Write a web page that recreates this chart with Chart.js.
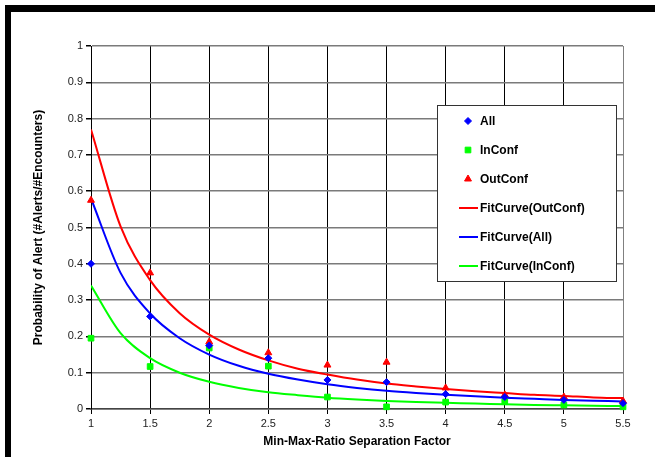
<!DOCTYPE html>
<html>
<head>
<meta charset="utf-8">
<script src="https://cdn.jsdelivr.net/npm/chart.js@4"></script>
<style>
  html, body { margin: 0; padding: 0; background: #fff; }
  #wrap { width: 655px; height: 457px; position: relative; }
</style>
</head>
<body>
<div id="wrap"><canvas id="alertChart" width="655" height="457"></canvas></div>
<script>
// separation factor values where the measurements were taken
const sepFactor = [1, 1.5, 2, 2.5, 3, 3.5, 4, 4.5, 5, 5.5];
const allProb     = [0.40, 0.255, 0.175, 0.140, 0.080, 0.074, 0.041, 0.033, 0.025, 0.016];
const inConfProb  = [0.195, 0.117, 0.168, 0.118, 0.033, 0.006, 0.019, 0.020, 0.011, 0.006];
const outConfProb = [0.575, 0.375, 0.185, 0.155, 0.121, 0.129, 0.058, 0.039, 0.033, 0.022];

// fitted curves
const fitX          = [1, 1.25, 1.5, 1.75, 2, 2.25, 2.5, 2.75, 3, 3.25, 3.5, 3.75, 4, 4.25, 4.5, 4.75, 5, 5.25, 5.5];
const fitOutConf    = [0.770, 0.503, 0.355, 0.264, 0.205, 0.164, 0.134, 0.111, 0.095, 0.081, 0.070, 0.062, 0.055, 0.049, 0.044, 0.039, 0.036, 0.032, 0.030];
const fitAll        = [0.580, 0.375, 0.263, 0.195, 0.150, 0.119, 0.097, 0.081, 0.068, 0.058, 0.050, 0.044, 0.039, 0.035, 0.031, 0.028, 0.025, 0.023, 0.021];
const fitInConf     = [0.340, 0.209, 0.140, 0.100, 0.075, 0.058, 0.046, 0.038, 0.031, 0.026, 0.022, 0.019, 0.017, 0.015, 0.013, 0.011, 0.010, 0.009, 0.008];

const toPts = (xs, ys) => xs.map((x, i) => ({ x: x, y: ys[i] }));
const FONT = "'Liberation Sans', Arial, sans-serif";
const fmt = (v) => String(Math.round(v * 100) / 100);

// black frame on the left and top edge + legend box inside the plot
const decoPlugin = {
    id: 'deco',
    beforeDraw(chart) {
        const c = chart.ctx;
        c.save();
        c.fillStyle = '#fff';
        c.fillRect(0, 0, chart.width, chart.height);
        c.fillStyle = '#000';
        c.fillRect(5, 5, 6, chart.height - 5);
        c.fillRect(5, 5, chart.width - 5, 7);
        c.restore();
    },
    afterDraw(chart) {
        const c = chart.ctx;
        const box = { x: 437, y: 105, w: 179, h: 176 };
        c.save();
        c.fillStyle = '#fff';
        c.fillRect(box.x, box.y, box.w, box.h);
        c.strokeStyle = '#333';
        c.lineWidth = 1;
        c.strokeRect(box.x + 0.5, box.y + 0.5, box.w, box.h);
        c.font = 'bold 12px ' + FONT;
        c.textBaseline = 'middle';
        chart.data.datasets.forEach((ds, i) => {
            const y = 121 + i * 29;
            if (ds.type === 'scatter') {
                c.fillStyle = ds.backgroundColor;
                c.strokeStyle = ds.backgroundColor;
                c.lineWidth = 1;
                Chart.helpers.drawPoint(c, { pointStyle: ds.pointStyle, radius: ds.pointRadius, rotation: 0, borderWidth: 1 }, 468, y);
            } else {
                c.strokeStyle = ds.borderColor;
                c.lineWidth = 2;
                c.beginPath();
                c.moveTo(459, y);
                c.lineTo(478, y);
                c.stroke();
            }
            c.fillStyle = '#000';
            c.fillText(ds.label, 480, y + 1);
        });
        c.restore();
    }
};

new Chart(document.getElementById('alertChart').getContext('2d'), {
    data: {
        datasets: [
            { type: 'scatter', label: 'All', data: toPts(sepFactor, allProb), clip: false,
              pointStyle: 'rectRot', pointRadius: 3.5, backgroundColor: '#0000ff', borderColor: '#0000ff', borderWidth: 1 },
            { type: 'scatter', label: 'InConf', data: toPts(sepFactor, inConfProb), clip: false,
              pointStyle: 'rect', pointRadius: 4, backgroundColor: '#00ff00', borderColor: '#00ff00', borderWidth: 1 },
            { type: 'scatter', label: 'OutConf', data: toPts(sepFactor, outConfProb), clip: false,
              pointStyle: 'triangle', pointRadius: 4, backgroundColor: '#ff0000', borderColor: '#ff0000', borderWidth: 1 },
            { type: 'line', label: 'FitCurve(OutConf)', data: toPts(fitX, fitOutConf),
              borderColor: '#ff0000', borderWidth: 2, pointRadius: 0, cubicInterpolationMode: 'monotone', fill: false },
            { type: 'line', label: 'FitCurve(All)', data: toPts(fitX, fitAll),
              borderColor: '#0000ff', borderWidth: 2, pointRadius: 0, cubicInterpolationMode: 'monotone', fill: false },
            { type: 'line', label: 'FitCurve(InConf)', data: toPts(fitX, fitInConf),
              borderColor: '#00ff00', borderWidth: 2, pointRadius: 0, cubicInterpolationMode: 'monotone', fill: false }
        ]
    },
    options: {
        responsive: false,
        animation: false,
        layout: { padding: { left: 27, right: 32, top: 46, bottom: 4 } },
        plugins: { legend: { display: false }, tooltip: { enabled: false } },
        scales: {
            x: {
                type: 'linear', min: 1, max: 5.5,
                afterFit(scale) { scale.height = 44; },
                ticks: { stepSize: 0.5, color: '#222', font: { family: FONT, size: 11 }, padding: 3, maxRotation: 0,
                         callback: fmt },
                grid: {
                    color: (ctx) => ctx.tick && ctx.tick.value === 5.5 ? '#808080' : '#000',
                    tickColor: '#000', tickLength: 5, lineWidth: 1
                },
                border: { color: '#444', width: 1.5 },
                title: { display: true, text: 'Min-Max-Ratio Separation Factor', color: '#000',
                         font: { family: FONT, size: 12, weight: 'bold' }, padding: { top: 0, bottom: 4 } }
            },
            y: {
                min: 0, max: 1,
                afterFit(scale) { scale.width = 64; },
                ticks: { stepSize: 0.1, color: '#222', font: { family: FONT, size: 11 }, padding: 3, callback: fmt },
                grid: { color: '#7a7a7a', tickColor: '#000', tickLength: 5, lineWidth: 1.5 },
                border: { color: '#000', width: 1 },
                title: { display: true, text: 'Probability of Alert (#Alerts/#Encounters)', color: '#000',
                         font: { family: FONT, size: 12, weight: 'bold' }, padding: 4 }
            }
        }
    },
    plugins: [decoPlugin]
});
</script>
</body>
</html>
